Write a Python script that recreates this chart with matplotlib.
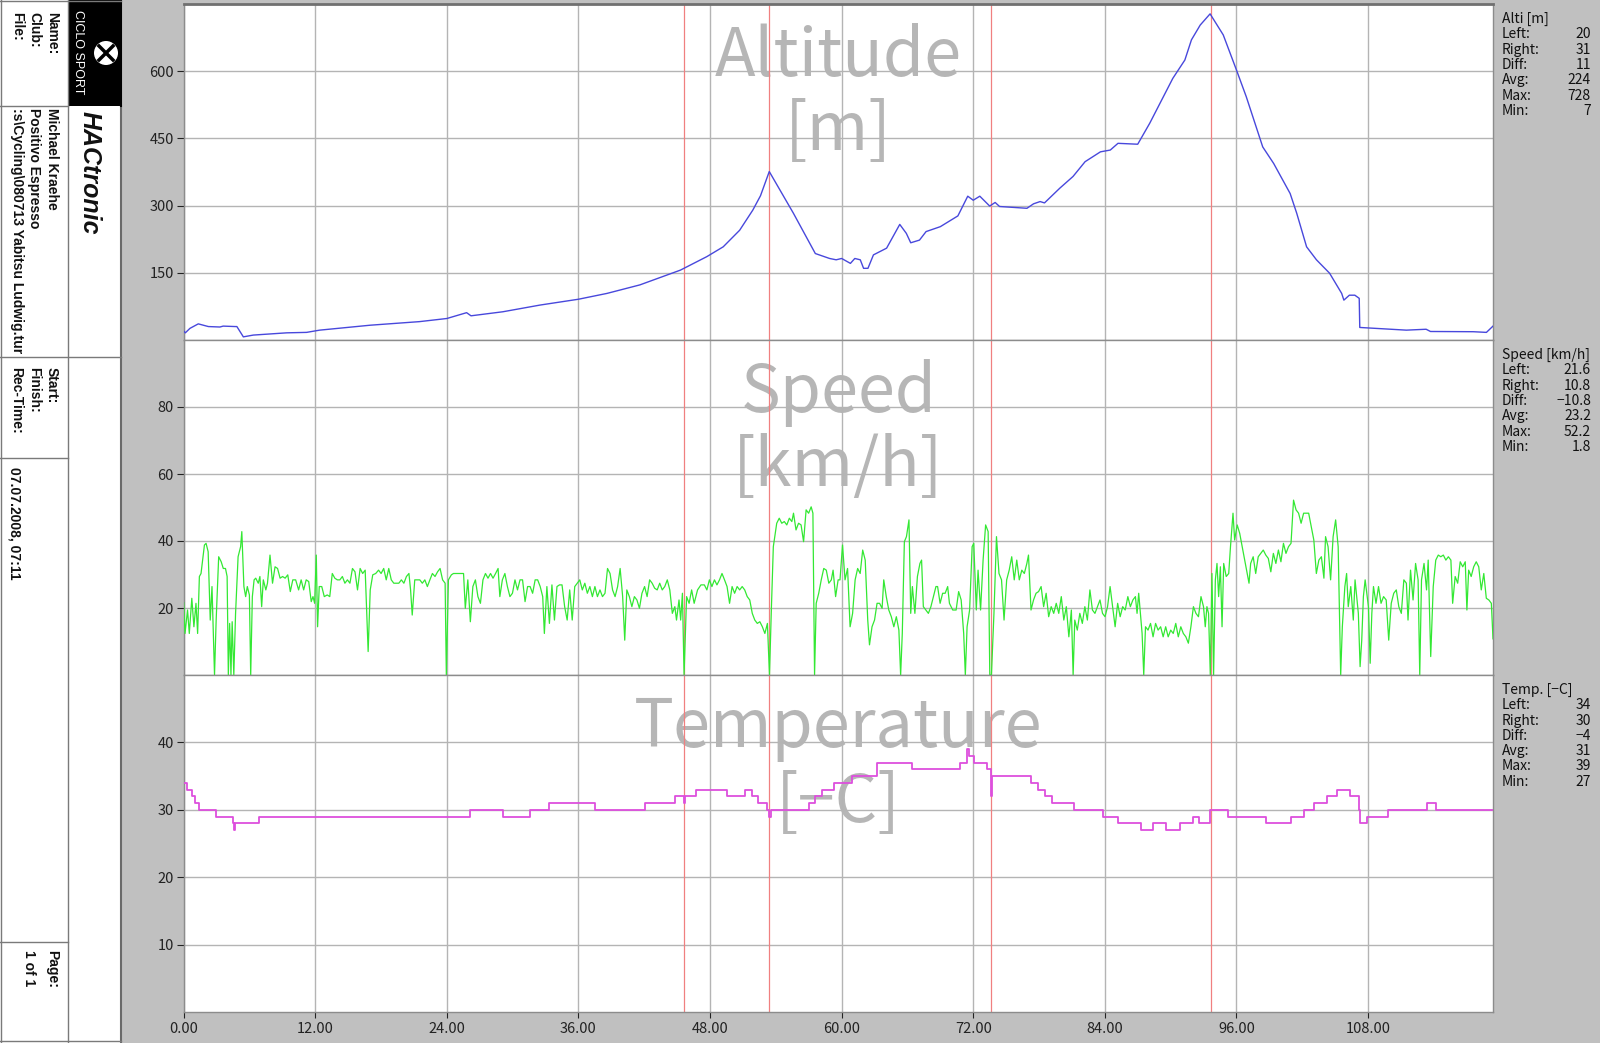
import matplotlib
matplotlib.use('Agg')
import matplotlib.pyplot as plt
from matplotlib.lines import Line2D
from matplotlib.patches import Rectangle, Ellipse
import numpy as np

# ---------------- data ----------------
x_ticks = [0, 12, 24, 36, 48, 60, 72, 84, 96, 108]
x_max = 119.4
marks_km = [45.65, 53.4, 73.65, 93.7]

alt_km = [0, 0.15, 0.57, 1.33, 2.25, 3.3, 3.6, 4.7, 4.85, 5.44,
          6.35, 9.4, 11.2, 12.4, 17.0, 21.5, 24.0, 25.8, 26.2, 29.1,
          32.5, 36.0, 38.6, 41.6, 45.3, 47.7, 49.2, 50.7, 51.9, 52.6, 53.4,
          55.6, 57.6, 58.9, 59.5, 60.0, 60.8, 61.2, 61.7, 62.0, 62.4,
          62.9, 64.1, 65.3, 65.9, 66.3, 67.1, 67.7, 69.0, 70.6, 71.5,
          72.0, 72.6, 73.5, 74.0, 74.4, 76.9, 77.5, 78.1, 78.5, 79.9,
          81.1, 82.2, 83.6, 84.5, 85.2, 87.0, 88.1, 90.2, 91.3, 91.9, 92.7,
          93.6, 94.8, 96.0, 96.9, 98.4, 99.4, 100.9, 101.5, 102.4, 103.3,
          104.5, 105.6, 105.8, 106.3, 106.8, 107.2, 107.25, 111.5, 113.3, 113.7,
          117.6, 118.8, 119.4]
alt_m = [20, 16, 26, 36, 30, 29, 31, 30, 30, 7,
         11, 16, 17, 22, 33, 41, 48, 61, 54, 63,
         78, 91, 104, 123, 156, 186, 208, 245, 290, 322, 376,
         283, 193, 182, 179, 182, 171, 182, 179, 160, 160,
         190, 205, 258, 238, 217, 223, 242, 253, 277, 321,
         312, 321, 299, 307, 298, 294, 304, 309, 306, 339,
         365, 398, 420, 424, 439, 437, 484, 584, 625, 670, 703,
         728, 681, 603, 543, 431, 394, 327, 283, 208, 179,
         149, 104, 89, 100, 100, 93, 28, 22, 24, 19,
         18.5, 17, 31]

speed_km_a = [0.00, 0.12, 0.35, 0.51, 0.74, 0.93, 1.12, 1.27, 1.43, 1.58,
              1.89, 2.04, 2.23, 2.42, 2.58, 2.81, 2.96, 3.19, 3.42, 3.61,
              3.81, 3.96, 4.07, 4.19, 4.31, 4.42, 4.57, 4.73, 4.96, 5.19,
              5.30, 5.49, 5.65, 5.80, 5.99, 6.11, 6.26, 6.42, 6.57, 6.80,
              6.95, 7.11, 7.26, 7.49, 7.64, 7.87, 8.10, 8.33, 8.56, 8.79,
              9.02, 9.25, 9.49, 9.72, 9.95, 10.21, 10.48, 10.71, 10.94, 11.17,
              11.40, 11.63, 11.79, 11.94, 12.09, 12.21, 12.36, 12.59, 12.82, 13.09,
              13.32, 13.55, 13.78, 14.01, 14.24, 14.47, 14.70, 14.93, 15.16, 15.39,
              15.62, 15.85, 16.09, 16.32, 16.55, 16.82, 17.01, 17.24, 17.51, 17.77,
              18.00, 18.24, 18.47, 18.70, 18.93, 19.16, 19.39, 19.62, 19.85, 20.08,
              20.31, 20.54, 20.69, 20.84, 21.07, 21.30, 21.53, 21.76, 21.99, 22.22,
              22.45, 22.68, 22.92, 23.15, 23.38, 23.61, 23.84, 23.95, 24.14, 24.41,
              24.60, 24.83, 25.06, 25.29, 25.52, 25.68, 25.91, 26.14, 26.37, 26.60,
              26.83, 27.06, 27.29, 27.52, 27.75, 27.98, 28.21, 28.44, 28.67, 28.83,
              29.06, 29.29, 29.52, 29.75, 29.98, 30.21, 30.44, 30.67, 30.90, 31.13,
              31.36, 31.59, 31.82, 32.05, 32.28, 32.51, 32.74, 32.89, 33.12, 33.35,
              33.58, 33.81, 34.04, 34.27, 34.50, 34.74, 34.97, 35.20, 35.43, 35.66,
              35.89, 36.12, 36.35, 36.58, 36.81, 37.04, 37.27, 37.50, 37.73, 37.96,
              38.19, 38.42, 38.65, 38.88, 39.11, 39.34, 39.57, 39.80, 40.03, 40.22,
              40.41, 40.64, 40.87, 41.10, 41.33, 41.56, 41.79, 42.03, 42.26, 42.49,
              42.72, 42.95, 43.18, 43.41, 43.64, 43.87, 44.10, 44.33, 44.56, 44.79,
              44.94, 45.17, 45.32, 45.48, 45.63, 45.86, 46.09, 46.32, 46.55, 46.86,
              47.17, 47.48, 47.71, 47.94, 48.17, 48.40, 48.63, 48.86, 49.09, 49.32,
              49.55, 49.78, 50.01, 50.24, 50.47, 50.70, 50.93, 51.16, 51.39, 51.62,
              51.85, 52.08, 52.31, 52.54, 52.77, 53.00, 53.23, 53.42, 53.58, 53.77,
              54.08, 54.31, 54.54, 54.77, 55.00, 55.23, 55.46, 55.61, 55.84, 56.07,
              56.30, 56.53, 56.76, 56.99, 57.22, 57.38, 57.53, 57.68, 57.91, 58.14,
              58.37, 58.60, 58.83, 59.06, 59.22, 59.45, 59.68]
speed_a = [21.6, 12.4, 19.4, 12.4, 22.9, 14.4, 21.4, 12.4, 29.4, 30.3,
           38.8, 39.3, 36.8, 16.4, 26.4, 0, 16.4, 35.3, 33.8, 31.8,
           31.8, 29.4, 0, 15.4, 0, 15.9, 0, 18.4, 35.3, 38.3,
           42.8, 26.4, 23.4, 26.4, 23.9, 0, 23.4, 28.4, 28.9, 27.4,
           29.4, 20.4, 28.4, 25.4, 27.4, 35.8, 27.4, 32.3, 31.8, 28.9,
           29.4, 28.9, 29.9, 24.9, 28.4, 28.4, 25.4, 28.4, 25.4, 28.4,
           27.9, 21.9, 23.4, 21.4, 35.8, 14.4, 26.4, 26.4, 23.4, 23.9,
           23.4, 30.3, 28.9, 28.4, 28.4, 29.4, 27.4, 28.4, 27.4, 31.8,
           30.8, 25.4, 31.8, 30.3, 31.3, 7.0, 25.4, 29.9, 30.3, 31.3,
           30.3, 31.8, 28.4, 31.8, 28.4, 27.4, 27.4, 27.4, 28.4, 27.4,
           29.4, 30.3, 25.4, 17.9, 28.4, 28.4, 28.4, 27.4, 28.4, 26.4,
           28.4, 30.3, 29.4, 30.8, 31.8, 28.4, 27.4, 0, 28.4, 29.9,
           30.3, 30.3, 30.3, 30.3, 30.3, 19.9, 28.4, 15.9, 26.4, 28.4,
           23.4, 21.4, 28.4, 30.3, 28.9, 30.3, 28.9, 30.3, 31.8, 23.4,
           28.4, 30.3, 26.4, 23.4, 24.4, 28.4, 25.4, 28.4, 28.4, 21.9,
           26.4, 26.4, 24.4, 28.4, 28.4, 26.4, 23.4, 12.4, 26.4, 15.4,
           26.9, 16.4, 26.4, 26.9, 26.9, 20.4, 16.4, 25.4, 16.4, 26.4,
           27.4, 28.4, 25.4, 27.4, 24.4, 26.4, 23.4, 26.4, 23.4, 25.4,
           23.4, 24.4, 31.8, 30.3, 25.4, 23.4, 26.4, 31.8, 23.4, 10.4,
           25.4, 23.4, 20.4, 23.4, 22.4, 19.9, 24.4, 26.4, 23.4, 28.4,
           27.4, 25.9, 25.4, 27.4, 25.4, 26.4, 28.4, 25.4, 18.4, 20.4,
           16.4, 22.4, 16.4, 24.4, 0, 23.4, 21.4, 25.4, 21.4, 25.4,
           26.9, 26.9, 25.4, 28.4, 26.4, 28.4, 26.9, 28.4, 30.3, 28.4,
           26.4, 21.4, 26.4, 24.4, 26.4, 25.4, 26.4, 25.4, 23.4, 22.4,
           18.4, 16.4, 15.4, 15.9, 14.4, 12.4, 15.4, 0, 18.4, 38.3,
           45.3, 46.8, 45.3, 45.8, 44.8, 46.8, 45.8, 48.3, 43.3, 45.3,
           44.8, 39.8, 49.3, 48.3, 50.2, 48.3, 0, 21.4, 24.4, 28.4,
           31.8, 31.3, 27.4, 28.4, 31.3, 23.4, 28.4]

speed_km_b = [59.85, 60.08, 60.31, 60.54, 60.77, 61.00, 61.23, 61.46, 61.69, 61.92,
              62.15, 62.38, 62.54, 62.77, 63.00, 63.23, 63.46, 63.69, 63.84, 64.07,
              64.30, 64.53, 64.76, 64.99, 65.22, 65.38, 65.53, 65.72, 65.91, 66.14,
              66.30, 66.45, 66.68, 66.91, 67.14, 67.29, 67.45, 67.68, 67.91, 68.14,
              68.37, 68.60, 68.75, 68.98, 69.21, 69.44, 69.67, 69.83, 70.13, 70.44,
              70.67, 70.90, 71.13, 71.28, 71.44, 71.67, 71.90, 72.05, 72.28, 72.44,
              72.67, 72.90, 73.13, 73.36, 73.51, 73.66, 73.89, 74.12, 74.35, 74.58,
              74.81, 75.05, 75.28, 75.51, 75.74, 75.97, 76.20, 76.43, 76.66, 76.89,
              77.04, 77.27, 77.50, 77.73, 77.96, 78.19, 78.42, 78.65, 78.88, 79.11,
              79.34, 79.57, 79.80, 80.03, 80.26, 80.49, 80.72, 80.95, 81.11, 81.26,
              81.49, 81.72, 81.95, 82.18, 82.41, 82.64, 82.87, 83.10, 83.33, 83.56,
              83.79, 84.02, 84.25, 84.48, 84.71, 84.94, 85.17, 85.40, 85.63, 85.86,
              86.10, 86.33, 86.56, 86.79, 86.94, 87.09, 87.25, 87.40, 87.55, 87.71,
              87.94, 88.17, 88.40, 88.63, 88.86, 89.09, 89.32, 89.55, 89.78, 90.01,
              90.24, 90.47, 90.70, 90.93, 91.16, 91.39, 91.62, 91.85, 92.08, 92.31,
              92.54, 92.77, 93.00, 93.16, 93.31, 93.46, 93.62, 93.77, 93.92, 94.08,
              94.23, 94.38, 94.54, 94.69, 94.84, 95.07, 95.30, 95.46, 95.69, 95.84,
              96.07, 96.30, 96.53, 96.76, 96.99, 97.15, 97.30, 97.53, 97.76, 97.99,
              98.22, 98.45, 98.68, 98.91, 99.14, 99.37, 99.60, 99.83, 100.06, 100.29,
              100.52, 100.75, 100.98, 101.21, 101.44, 101.67, 101.90, 102.13, 102.36, 102.59,
              102.82, 103.06, 103.29, 103.52, 103.75, 103.98, 104.13, 104.36, 104.59, 104.82,
              105.05, 105.28, 105.51, 105.66, 105.89, 106.05, 106.20, 106.43, 106.66, 106.82,
              106.97, 107.12, 107.28, 107.43, 107.58, 107.74, 107.89, 108.04, 108.20, 108.35,
              108.50, 108.73, 108.96, 109.19, 109.42, 109.66, 109.89, 110.12, 110.35, 110.58,
              110.81, 111.04, 111.27, 111.50, 111.65, 111.88, 112.11, 112.34, 112.57, 112.72,
              112.88, 113.11, 113.34, 113.49, 113.72, 113.95, 114.18, 114.41, 114.64, 114.87,
              115.10, 115.33, 115.56, 115.72, 115.95, 116.18, 116.41, 116.64, 116.87, 117.02,
              117.18, 117.41, 117.64, 117.87, 118.10, 118.33, 118.56, 118.79, 119.02, 119.25,
              119.40]
speed_b = [28.4, 38.8, 28.4, 31.8, 14.4, 18.4, 28.4, 31.8, 30.3, 37.3,
           34.3, 16.4, 9.0, 14.4, 16.4, 21.4, 21.4, 19.9, 28.4, 23.4,
           19.4, 17.4, 14.4, 17.4, 13.4, 0, 12.4, 39.8, 41.3, 46.3,
           18.4, 26.4, 18.4, 29.4, 33.3, 34.3, 20.4, 19.4, 18.4, 20.4,
           23.4, 26.4, 26.4, 21.4, 24.4, 24.4, 26.4, 21.4, 19.4, 19.4,
           24.9, 22.4, 12.4, 0, 14.4, 19.4, 38.3, 39.3, 19.4, 31.3,
           19.4, 34.3, 44.8, 42.8, 0, 0, 18.4, 41.3, 30.3, 28.4,
           16.4, 28.4, 31.3, 35.3, 28.4, 34.3, 28.4, 31.3, 30.3, 33.3,
           35.8, 19.4, 22.4, 24.4, 24.9, 26.4, 20.4, 24.4, 17.4, 20.4,
           18.4, 21.4, 18.4, 23.4, 16.4, 20.4, 11.4, 19.4, 0, 16.4,
           13.4, 18.4, 15.4, 20.4, 16.4, 25.4, 19.4, 18.4, 20.4, 22.4,
           18.4, 17.4, 20.4, 26.4, 20.4, 14.4, 21.4, 17.4, 20.4, 19.4,
           23.4, 20.4, 22.4, 23.4, 18.4, 24.4, 18.4, 12.4, 0, 14.4,
           13.4, 15.4, 11.4, 15.4, 13.4, 14.4, 11.4, 14.4, 11.4, 13.4,
           12.4, 15.4, 11.4, 14.4, 12.4, 11.4, 9.5, 14.4, 20.4, 18.4,
           17.4, 23.4, 20.4, 14.4, 20.4, 18.4, 0, 30.3, 0, 28.4,
           33.3, 23.4, 32.3, 14.4, 33.3, 29.4, 30.3, 38.3, 48.3, 40.3,
           44.8, 42.3, 38.3, 34.3, 30.3, 27.4, 33.3, 35.3, 30.3, 35.3,
           36.3, 37.3, 35.8, 34.8, 30.8, 36.3, 33.3, 37.3, 33.8, 39.3,
           36.3, 38.3, 39.3, 52.2, 49.3, 48.3, 45.3, 48.3, 48.3, 48.3,
           44.3, 40.3, 30.3, 34.3, 35.3, 28.9, 41.3, 38.3, 28.4, 41.3,
           46.3, 38.3, 0, 14.4, 26.4, 30.3, 20.4, 26.4, 16.4, 28.4,
           23.4, 18.4, 2.5, 10.4, 23.4, 28.4, 24.4, 20.4, 3.5, 18.4,
           26.4, 21.4, 26.4, 21.4, 23.4, 22.4, 10.4, 21.4, 24.4, 25.4,
           20.4, 18.4, 28.4, 27.4, 16.4, 31.3, 22.4, 33.3, 28.4, 0,
           28.4, 33.3, 25.4, 34.3, 5.5, 26.4, 34.3, 35.8, 35.3, 35.8,
           34.3, 35.3, 34.3, 21.4, 29.4, 27.4, 33.8, 32.3, 33.8, 19.4,
           31.3, 29.4, 32.3, 33.8, 32.3, 25.4, 30.3, 22.9, 22.4, 21.4,
           10.8]

temp_km = [0, 0.28, 0.73, 1.04, 1.35, 2.9, 4.5, 4.6, 4.7, 6.9,
           26.1, 29.1, 31.6, 33.3, 37.5, 42.1, 44.8, 45.6, 45.75, 46.7,
           49.5, 51.2, 51.8, 52.4, 53.2, 53.4, 53.6, 57.0, 57.6, 58.2,
           59.3, 60.9, 63.2, 66.4, 70.8, 71.4, 71.6, 72.1, 73.3, 73.6,
           73.7, 77.3, 77.9, 78.5, 79.2, 81.2, 83.8, 85.2, 87.3, 88.4,
           89.6, 90.9, 92.0, 92.6, 93.6, 95.2, 98.7, 101.0, 102.2, 103.1,
           104.3, 105.2, 106.4, 107.2, 107.3, 107.9, 109.8, 113.4, 114.2, 119.4]
temp_c = [34, 33, 32, 31, 30, 29, 28, 27, 28, 29,
          30, 29, 30, 31, 30, 31, 32, 31, 32, 33,
          32, 33, 32, 31, 30, 29, 30, 31, 32, 33,
          34, 35, 37, 36, 37, 39, 38, 37, 36, 32,
          35, 34, 33, 32, 31, 30, 29, 28, 27, 28,
          27, 28, 29, 28, 30, 29, 28, 29, 30, 31,
          32, 33, 32, 30, 28, 29, 30, 31, 30, 30]

alt_stats = [("Left:", "20"), ("Right:", "31"), ("Diff:", "11"),
             ("Avg:", "224"), ("Max:", "728"), ("Min:", "7")]
speed_stats = [("Left:", "21.6"), ("Right:", "10.8"), ("Diff:", "\u221210.8"),
               ("Avg:", "23.2"), ("Max:", "52.2"), ("Min:", "1.8")]
temp_stats = [("Left:", "34"), ("Right:", "30"), ("Diff:", "\u22124"),
              ("Avg:", "31"), ("Max:", "39"), ("Min:", "27")]

# ---------------- figure ----------------
W, H = 1600, 1043
GRAY = '#c0c0c0'
fig = plt.figure(figsize=(16, 10.43), dpi=100, facecolor=GRAY)
JP = ['Noto Sans CJK JP', 'DejaVu Sans']
ARIAL = ['Liberation Sans', 'DejaVu Sans']


def fx(x):
    return x / W


def fy(y):
    return 1 - y / H


left, right = fx(183.7), fx(1493)
panel_px = [(4, 340), (340, 675), (675, 1012)]
axes = []
for top, bot in panel_px:
    ax = fig.add_axes([left, fy(bot), right - left, (bot - top) / H])
    axes.append(ax)
ax_alt, ax_spd, ax_tmp = axes

speed_km = speed_km_a + speed_km_b
speed = speed_a + speed_b

ax_alt.plot(alt_km, alt_m, color='#4848dc', lw=1.0, zorder=3)
ax_spd.plot(speed_km, speed, color='#33e833', lw=0.9, zorder=3)
ax_tmp.plot(temp_km, temp_c, color='#dd4fdd', lw=1.3, drawstyle='steps-post', zorder=3)

ylims = [(0, 750), (0, 100), (0, 50)]
yticks = [[150, 300, 450, 600], [20, 40, 60, 80], [10, 20, 30, 40]]
titles = [("Altitude", "[m]"), ("Speed", "[km/h]"), ("Temperature", "[\u2212C]")]
for ax, yl, yt, (t1, t2) in zip(axes, ylims, yticks, titles):
    ax.set_xlim(0, x_max)
    ax.set_ylim(*yl)
    ax.set_yticks(yt)
    ax.set_xticks(x_ticks)
    ax.grid(True, color='#b4b4b4', lw=1.0)
    for m in marks_km:
        ax.axvline(m, color='#f08080', lw=0.9, zorder=2)
    ax.tick_params(axis='y', direction='out', length=5, width=0.8, pad=2,
                   labelsize=10.5, colors='#222222')
    for lab in ax.get_yticklabels():
        lab.set_fontfamily(JP)
    for s in ax.spines.values():
        s.set_color('#8c8c8c')
        s.set_linewidth(1.0)
    ax.text(0.5, 0.785, t1, transform=ax.transAxes, ha='center', va='baseline',
            fontsize=48, color='#b6b6b6', family=JP, zorder=0)
    ax.text(0.5, 0.565, t2, transform=ax.transAxes, ha='center', va='baseline',
            fontsize=48, color='#b6b6b6', family=JP, zorder=0)

ax_alt.spines['top'].set_linewidth(2.0)
ax_alt.spines['top'].set_color('#707070')
for ax in (ax_alt, ax_spd):
    ax.tick_params(axis='x', length=0, labelbottom=False)
ax_tmp.set_xticklabels(['%.2f' % v for v in x_ticks])
ax_tmp.tick_params(axis='x', direction='out', length=4, width=0.8, pad=3,
                   labelsize=10.5, colors='#222222')
for lab in ax_tmp.get_xticklabels():
    lab.set_fontfamily(JP)

# ---------------- right stats panel ----------------
for (top, bot), head, stats in zip(panel_px, ["Alti [m]", "Speed [km/h]", "Temp. [\u2212C]"],
                                   [alt_stats, speed_stats, temp_stats]):
    y0 = top + 15
    fig.text(fx(1502), fy(y0), head, ha='left', va='center', fontsize=10, family=JP, color='#111111')
    for i, (k, v) in enumerate(stats):
        yy = y0 + 15.3 * (i + 1)
        fig.text(fx(1502), fy(yy), k, ha='left', va='center', fontsize=10, family=JP, color='#111111')
        fig.text(fx(1591), fy(yy), v, ha='right', va='center', fontsize=10, family=JP, color='#111111')

# ---------------- left info panel ----------------
fig.add_artist(Rectangle((0, 0), fx(121), 1, transform=fig.transFigure,
                         facecolor='white', edgecolor='none', zorder=0))
fig.add_artist(Rectangle((fx(68), fy(106)), fx(121) - fx(68), 106 / H, transform=fig.transFigure,
                         facecolor='black', edgecolor='none', zorder=1))


def hline(y, x0, x1, c='#7a7a7a', lw=1.0):
    fig.add_artist(Line2D([fx(x0), fx(x1)], [fy(y), fy(y)], transform=fig.transFigure,
                          color=c, lw=lw, zorder=2))


def vline(x, y0, y1, c='#7a7a7a', lw=1.0):
    fig.add_artist(Line2D([fx(x), fx(x)], [fy(y0), fy(y1)], transform=fig.transFigure,
                          color=c, lw=lw, zorder=2))


vline(68, 0, H)
vline(121, 106, H, c='#6a6a6a', lw=1.5)
vline(121, 0, 106, c='black', lw=1.5)
vline(0.6, 0, H)
hline(0.6, 0, 121)
hline(H - 2, 0, 121)
hline(106, 0, 68)
hline(357, 0, 121)
hline(458, 0, 68)
hline(942, 0, 68)


def rtext(x, y, s, **kw):
    fig.text(fx(x), fy(y), s, rotation=-90, rotation_mode='anchor',
             ha='left', va='center', **kw)


info_kw = dict(fontsize=10, family=ARIAL, fontweight='bold', color='#111111')
rtext(52, 12, "Name:", **info_kw)
rtext(34, 12, "Club:", **info_kw)
rtext(17, 12, "File:", **info_kw)
rtext(52, 108, "Michael Kraehe", **info_kw)
rtext(34, 108, "Positivo Espresso", **info_kw)
rtext(17, 108, ":s\\Cycling\\080713 Yabitsu Ludwig.tur", **info_kw)
rtext(52, 367, "Start:", **info_kw)
rtext(34, 367, "Finish:", **info_kw)
rtext(16, 367, "Rec-Time:", **info_kw)
rtext(15, 467, "07.07.2008, 07:11", **info_kw)
rtext(52, 950, "Page:", **info_kw)
rtext(29, 950, "1 of 1", **info_kw)

rtext(90, 111, "HACtronic", fontsize=18, family=ARIAL, fontweight='bold',
      fontstyle='italic', color='#111111')
rtext(78, 10, "CICLO SPORT", fontsize=9, family=ARIAL, color='white')
fig.add_artist(Ellipse((fx(106), fy(53)), 24 / W, 24 / H, transform=fig.transFigure,
                       facecolor='white', edgecolor='none', zorder=3))
fig.add_artist(Line2D([fx(99), fx(113)], [fy(46), fy(60)], transform=fig.transFigure,
                      color='black', lw=2.5, zorder=4))
fig.add_artist(Line2D([fx(113), fx(99)], [fy(46), fy(60)], transform=fig.transFigure,
                      color='black', lw=2.5, zorder=4))

fig.savefig('out.png', dpi=100, facecolor=GRAY)
